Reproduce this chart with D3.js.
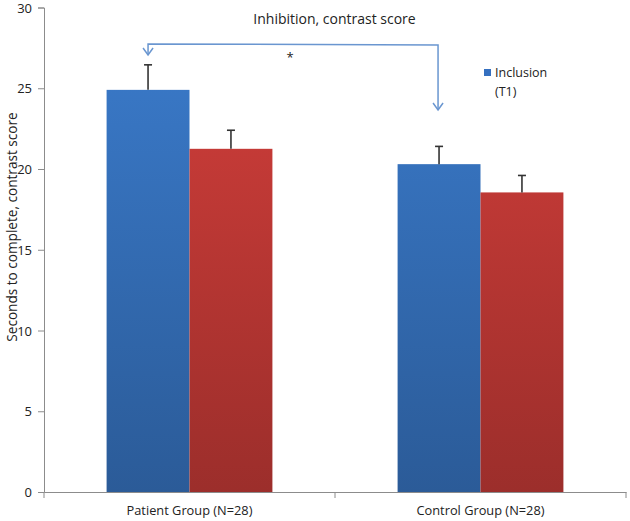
<!DOCTYPE html>
<html><head><meta charset="utf-8">
<script src="https://cdn.jsdelivr.net/npm/d3@7"></script>
<style>body{margin:0;background:#fff}svg{display:block}text{font-family:"Open Sans",sans-serif;fill:#222}</style>
</head><body><svg id="c" width="630" height="521"></svg>
<script>
const categories = ["Patient Group (N=28)", "Control Group (N=28)"];
const seriesNames = ["Inclusion (T1)", "Follow-up (T2)"];
const inclusionValues = [24.9, 20.3];
const inclusionErrors = [1.55, 1.1];
const followupValues = [21.25, 18.55];
const followupErrors = [1.15, 1.05];
const yTicks = [0, 5, 10, 15, 20, 25, 30];
const titleText = "Inhibition, contrast score";
const yLabel = "Seconds to complete, contrast score";

const svg = d3.select("#c");
const m = {l:44, r:4, t:7.5, b:29};
const W = 630, H = 521;
const x0 = d3.scaleBand().domain(categories).range([m.l, W-m.r]).paddingInner(0).paddingOuter(0);
const y = d3.scaleLinear().domain([0,30]).range([H-m.b, m.t]);
const x1 = d3.scaleBand().domain([0,1]).range([0, x0.bandwidth()]).paddingOuter(0.755).paddingInner(0);

const defs = svg.append("defs");
function grad(id, top, bot){
  const g = defs.append("linearGradient").attr("id", id).attr("gradientUnits","userSpaceOnUse")
    .attr("x1",0).attr("x2",0).attr("y1", y(30)).attr("y2", y(0));
  g.append("stop").attr("offset","0%").attr("stop-color",top);
  g.append("stop").attr("offset","100%").attr("stop-color",bot);
}
grad("gb", "#3b7ccd", "#2b5b98");
grad("gr", "#d43f3b", "#9c2e2b");

// axes
const yAxis = d3.axisLeft(y).tickValues(yTicks).tickSize(6).tickFormat(d3.format("d"));
const ga = svg.append("g").attr("transform", `translate(${m.l},0)`).call(yAxis);
ga.select(".domain").attr("stroke","#8c8c8c");
ga.selectAll(".tick line").attr("stroke","#8c8c8c");
ga.selectAll(".tick text").attr("font-size",13).attr("fill","#222").attr("x",-12).attr("dy","0.36em").style("font-family","Open Sans");

const xAxis = d3.axisBottom(x0).tickSize(0);
const gx = svg.append("g").attr("transform", `translate(0,${y(0)})`).call(xAxis);
gx.select(".domain").attr("stroke","#8c8c8c");
gx.selectAll(".tick text").attr("font-size",12.8).attr("fill","#222").attr("y",23).attr("dy",0).style("font-family","Open Sans");
// category tick marks (between categories and at ends)
const bounds = [x0.range()[0], x0(categories[1]), x0.range()[1]];
svg.append("g").selectAll("line").data(bounds).join("line")
  .attr("x1",d=>d).attr("x2",d=>d).attr("y1",y(0)).attr("y2",y(0)+6).attr("stroke","#8c8c8c");

const series = [
  {vals: inclusionValues, errs: inclusionErrors, fill: "url(#gb)"},
  {vals: followupValues, errs: followupErrors, fill: "url(#gr)"}
];
series.forEach((s, si) => {
  const g = svg.append("g");
  g.selectAll("rect").data(categories).join("rect")
    .attr("x", (c)=>x0(c)+x1(si)).attr("width", x1.bandwidth())
    .attr("y", (c,i)=>y(s.vals[i])).attr("height",(c,i)=>y(0)-y(s.vals[i]))
    .attr("fill", s.fill);
  const eb = svg.append("g").attr("stroke","#333").attr("stroke-width",1.6);
  categories.forEach((c,i)=>{
    const cx = x0(c)+x1(si)+x1.bandwidth()/2;
    eb.append("line").attr("x1",cx).attr("x2",cx).attr("y1",y(s.vals[i])).attr("y2",y(s.vals[i]+s.errs[i]));
    eb.append("line").attr("x1",cx-4).attr("x2",cx+4).attr("y1",y(s.vals[i]+s.errs[i])).attr("y2",y(s.vals[i]+s.errs[i]));
  });
});

// title
svg.append("text").attr("x",334.5).attr("y",24).attr("text-anchor","middle").attr("font-size",14).text(titleText);

// y label
svg.append("text").attr("transform",`translate(17,227) rotate(-90)`).attr("text-anchor","middle").attr("font-size",13.6).text(yLabel);

// legend
svg.append("rect").attr("x",484).attr("y",69).attr("width",7).attr("height",7).attr("fill","#3570c0");
svg.append("text").attr("x",495).attr("y",77).attr("font-size",12.5).text("Inclusion");
svg.append("text").attr("x",495).attr("y",96).attr("font-size",12.5).text("(T1)");

// significance bracket
const lx = x0(categories[0])+x1(0)+x1.bandwidth()/2;
const rx = x0(categories[1])+x1(0)+x1.bandwidth()/2 - 1;
const br = svg.append("g").attr("fill","none").attr("stroke","#6a96d0").attr("stroke-width",1.5);
br.append("path").attr("d",`M${lx},55 L${lx},44 L${rx},45 L${rx},110`);
br.append("path").attr("d",`M${lx-5},48 L${lx},55 L${lx+5},48`);
br.append("path").attr("d",`M${rx-5},103 L${rx},110 L${rx+5},103`);
svg.append("text").attr("x",290).attr("y",62).attr("text-anchor","middle").attr("font-size",13).text("*");
</script></body></html>
